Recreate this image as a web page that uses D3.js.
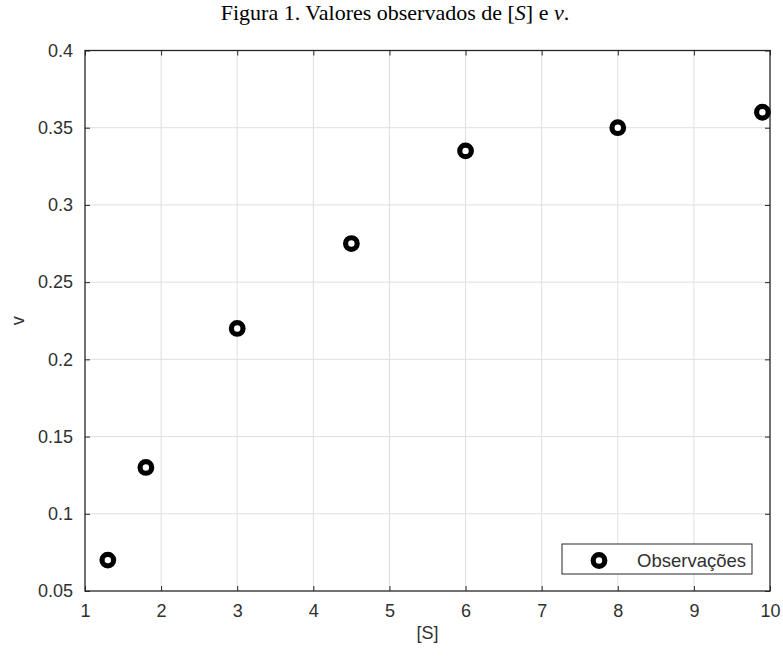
<!DOCTYPE html>
<html>
<head>
<meta charset="utf-8">
<script src="https://cdn.jsdelivr.net/npm/d3@7"></script>
<style>
  html, body { margin: 0; padding: 0; background: #fff; }
  svg { display: block; }
  .tick-label, .axis-label, .legend-text { font-family: "Liberation Sans", Arial, Helvetica, sans-serif; fill: #303030; }
  .title { font-family: "Liberation Serif", "Times New Roman", serif; fill: #000; }
</style>
</head>
<body>
<svg id="chart" width="783" height="657"></svg>
<script>
// Observed substrate concentrations [S] and reaction rates v
const substrate = [1.3, 1.8, 3.0, 4.5, 6.0, 8.0, 9.9];
const rate = [0.07, 0.13, 0.22, 0.275, 0.335, 0.35, 0.36];

const xTicks = [1, 2, 3, 4, 5, 6, 7, 8, 9, 10];
const yTicks = [0.05, 0.1, 0.15, 0.2, 0.25, 0.3, 0.35, 0.4];
const xTickLabels = ["1", "2", "3", "4", "5", "6", "7", "8", "9", "10"];
const yTickLabels = ["0.05", "0.1", "0.15", "0.2", "0.25", "0.3", "0.35", "0.4"];
const legendLabel = "Observações";

const svg = d3.select("#chart");
const plot = { left: 85, right: 770, top: 50.5, bottom: 591 };

const x = d3.scaleLinear().domain([1, 10]).range([plot.left, plot.right]);
const y = d3.scaleLinear().domain([0.05, 0.4]).range([plot.bottom, plot.top]);

const axisColor = "#262626";
const gridColor = "#dfdfdf";
const fontSize = 18;

// Grid lines
const grid = svg.append("g");
grid.selectAll("line.gx").data(xTicks.slice(1, -1)).join("line")
  .attr("x1", d => x(d)).attr("x2", d => x(d))
  .attr("y1", plot.top).attr("y2", plot.bottom)
  .attr("stroke", gridColor).attr("stroke-width", 1);
grid.selectAll("line.gy").data(yTicks.slice(1, -1)).join("line")
  .attr("y1", d => y(d)).attr("y2", d => y(d))
  .attr("x1", plot.left).attr("x2", plot.right)
  .attr("stroke", gridColor).attr("stroke-width", 1);

// Axes with inward ticks on all four sides
const tickLen = 5;
svg.append("g").attr("transform", `translate(0,${plot.bottom})`)
  .call(d3.axisBottom(x).tickValues(xTicks).tickSize(-tickLen).tickFormat((d, i) => xTickLabels[i]).tickPadding(13))
  .call(g => g.select(".domain").remove())
  .call(g => g.selectAll(".tick line").attr("stroke", axisColor))
  .call(g => g.selectAll(".tick text").attr("class", "tick-label").attr("font-size", fontSize).attr("fill", "#303030").attr("dy", "0.71em"));
svg.append("g").attr("transform", `translate(0,${plot.top})`)
  .call(d3.axisTop(x).tickValues(xTicks).tickSize(-tickLen).tickFormat(""))
  .call(g => g.select(".domain").remove())
  .call(g => g.selectAll(".tick line").attr("stroke", axisColor));
svg.append("g").attr("transform", `translate(${plot.left},0)`)
  .call(d3.axisLeft(y).tickValues(yTicks).tickSize(-tickLen).tickFormat((d, i) => yTickLabels[i]).tickPadding(12))
  .call(g => g.select(".domain").remove())
  .call(g => g.selectAll(".tick line").attr("stroke", axisColor))
  .call(g => g.selectAll(".tick text").attr("class", "tick-label").attr("font-size", fontSize).attr("fill", "#303030"));
svg.append("g").attr("transform", `translate(${plot.right},0)`)
  .call(d3.axisRight(y).tickValues(yTicks).tickSize(-tickLen).tickFormat(""))
  .call(g => g.select(".domain").remove())
  .call(g => g.selectAll(".tick line").attr("stroke", axisColor));

svg.selectAll(".tick line").attr("stroke-width", 1);

// Box around the plot area
svg.append("rect")
  .attr("x", plot.left).attr("y", plot.top)
  .attr("width", plot.right - plot.left).attr("height", plot.bottom - plot.top)
  .attr("fill", "none").attr("stroke", axisColor).attr("stroke-width", 1.3);

// Data markers
svg.append("g").selectAll("circle").data(substrate).join("circle")
  .attr("cx", d => x(d))
  .attr("cy", (d, i) => y(rate[i]))
  .attr("r", 5.8)
  .attr("fill", "#fff").attr("stroke", "#000").attr("stroke-width", 5.2);

// Axis labels
svg.append("text").attr("class", "axis-label")
  .attr("x", (plot.left + plot.right) / 2).attr("y", 639)
  .attr("text-anchor", "middle").attr("font-size", fontSize).text("[S]");
svg.append("text").attr("class", "axis-label")
  .attr("transform", `translate(24,${(plot.top + plot.bottom) / 2}) rotate(-90)`)
  .attr("text-anchor", "middle").attr("font-size", fontSize).text("v");

// Title with italic math symbols
const title = svg.append("text").attr("class", "title")
  .attr("x", 395).attr("y", 20).attr("text-anchor", "middle").attr("font-size", 22);
title.append("tspan").text("Figura 1. Valores observados de [");
title.append("tspan").attr("font-style", "italic").text("S");
title.append("tspan").text("] e ");
title.append("tspan").attr("font-style", "italic").text("v");
title.append("tspan").text(".");

// Legend
const legend = svg.append("g");
legend.append("rect")
  .attr("x", 562).attr("y", 544).attr("width", 190).attr("height", 30)
  .attr("fill", "#fff").attr("stroke", axisColor).attr("stroke-width", 1);
legend.append("circle")
  .attr("cx", 599).attr("cy", 560.5).attr("r", 5.8)
  .attr("fill", "#fff").attr("stroke", "#000").attr("stroke-width", 5.2);
legend.append("text").attr("class", "legend-text")
  .attr("x", 637).attr("y", 566.5).attr("font-size", 18.5).text(legendLabel);
</script>
</body>
</html>
